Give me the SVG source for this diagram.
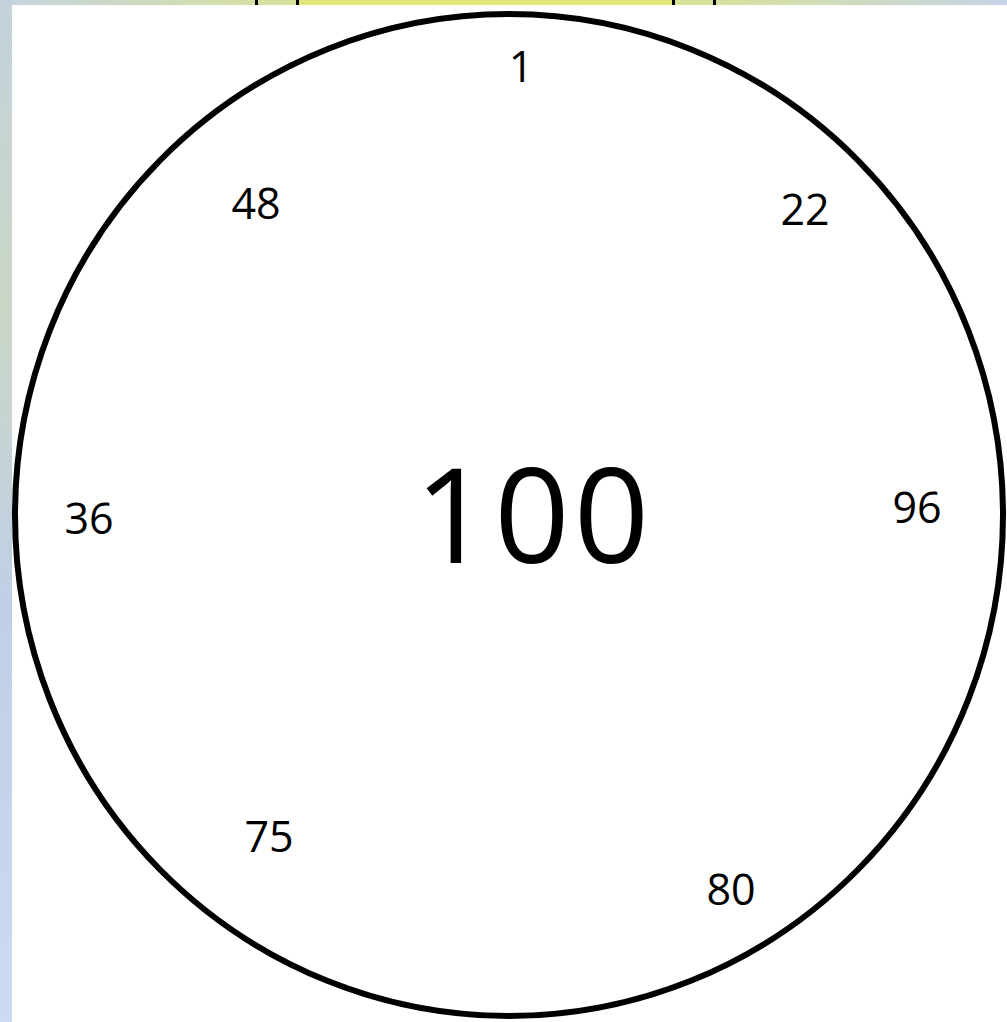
<svg xmlns="http://www.w3.org/2000/svg" width="1007" height="1022" viewBox="0 0 1007 1022">
<defs>
<linearGradient id="topg" x1="0" y1="0" x2="1" y2="0">
<stop offset="0" stop-color="#c4d3e0"/>
<stop offset="0.3" stop-color="#d8e29a"/>
<stop offset="0.5" stop-color="#e2e67e"/>
<stop offset="0.7" stop-color="#d8e29a"/>
<stop offset="1" stop-color="#c4d3e6"/>
</linearGradient>
<linearGradient id="leftg" x1="0" y1="0" x2="0" y2="1">
<stop offset="0" stop-color="#c3d2dc"/>
<stop offset="0.3" stop-color="#cad7c6"/>
<stop offset="0.6" stop-color="#bfcfe8"/>
<stop offset="1" stop-color="#ccdaf2"/>
</linearGradient>
<style>
.lbl{font-family:"Open Sans","Liberation Sans",sans-serif;font-size:43px;fill:#000;text-anchor:middle}
.big{font-family:"Open Sans","Liberation Sans",sans-serif;font-size:132px;letter-spacing:4px;fill:#000;text-anchor:middle}
</style>
</defs>
<rect x="0" y="0" width="1007" height="1022" fill="#ffffff"/>
<rect x="0" y="0" width="1007" height="5" fill="url(#topg)"/>
<rect x="298" y="0" width="374" height="5" fill="#e0e67c"/>
<rect x="0" y="0" width="12" height="1022" fill="url(#leftg)"/>
<g fill="#000">
<rect x="255" y="0" width="3" height="5"/>
<rect x="296" y="0" width="3" height="5"/>
<rect x="672" y="0" width="3" height="5"/>
<rect x="713" y="0" width="3" height="5"/>
</g>
<g id="circle">
<ellipse cx="509" cy="515" rx="494" ry="501" fill="none" stroke="#000" stroke-width="6"/>
</g>
<g id="n100"><text class="big" x="534" y="563">100</text></g>
<g id="n1"><text class="lbl" x="521" y="82">1</text></g>
<g id="n48"><text class="lbl" x="256" y="219">48</text></g>
<g id="n22"><text class="lbl" x="805" y="225">22</text></g>
<g id="n36"><text class="lbl" x="89" y="534">36</text></g>
<g id="n96"><text class="lbl" x="917" y="523">96</text></g>
<g id="n75"><text class="lbl" x="269" y="852">75</text></g>
<g id="n80"><text class="lbl" x="731" y="905">80</text></g>
</svg>
